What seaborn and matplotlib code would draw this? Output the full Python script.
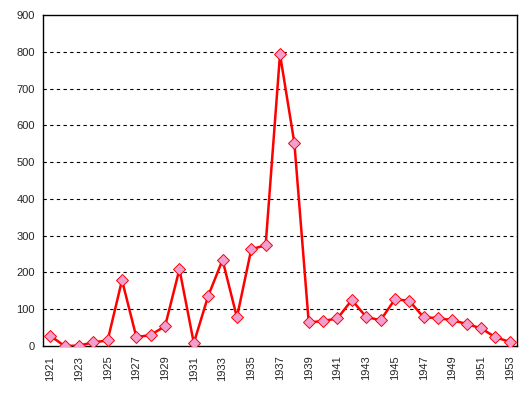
import matplotlib
matplotlib.use("Agg")
import matplotlib.pyplot as plt
import seaborn as sns
import pandas as pd
import numpy as np

years = list(range(1921, 1954))
values = [28, 0, 1, 10, 15, 179, 24, 30, 54, 209, 8, 136, 234, 78, 263, 274,
          793, 552, 64, 68, 75, 125, 79, 70, 127, 123, 78, 76, 70, 60, 48, 24, 11]
y_ticks = [0, 100, 200, 300, 400, 500, 600, 700, 800, 900]
x_labels = [str(y) for y in range(1921, 1954, 2)]

df = pd.DataFrame({"year": years, "value": values})

sns.set_style("white")
plt.rcParams['font.family'] = ['Liberation Sans', 'DejaVu Sans']

fig = plt.figure(figsize=(5.31, 3.95), dpi=100)
ax = fig.add_axes([43/531, 49/395, (517-43)/531, (346-15)/395])

sns.lineplot(data=df, x="year", y="value", ax=ax, color="#FF0000", linewidth=1.8,
             marker="D", markersize=6, markerfacecolor="#F0A0D0",
             markeredgecolor="#FF0000", markeredgewidth=0.7, zorder=3)

ax.set_xlim(1920.5, 1953.5)
ax.set_ylim(0, 900)
ax.set_yticks(y_ticks)
ax.set_yticklabels([str(v) for v in y_ticks], fontsize=8)
ax.set_xticks(list(range(1921, 1954, 2)))
ax.set_xticklabels(x_labels, rotation=90, fontsize=8)
ax.set_xticks([y + 0.5 for y in range(1920, 1954)], minor=True)
ax.tick_params(axis='x', which='major', length=0, pad=7)
ax.tick_params(axis='x', which='minor', length=4, width=0.8, direction='out', color='black')
ax.tick_params(axis='y', length=4, width=0.8, direction='out', color='black', pad=2)
for yv in y_ticks[1:-1]:
    ax.axhline(yv, color='black', linestyle=(0, (3, 3)), linewidth=0.8, zorder=1)
for s in ax.spines.values():
    s.set_color('black')
    s.set_linewidth(1.0)
    s.set_visible(True)
ax.set_xlabel("")
ax.set_ylabel("")
ax.grid(False)

fig.savefig("out.png", dpi=100)
